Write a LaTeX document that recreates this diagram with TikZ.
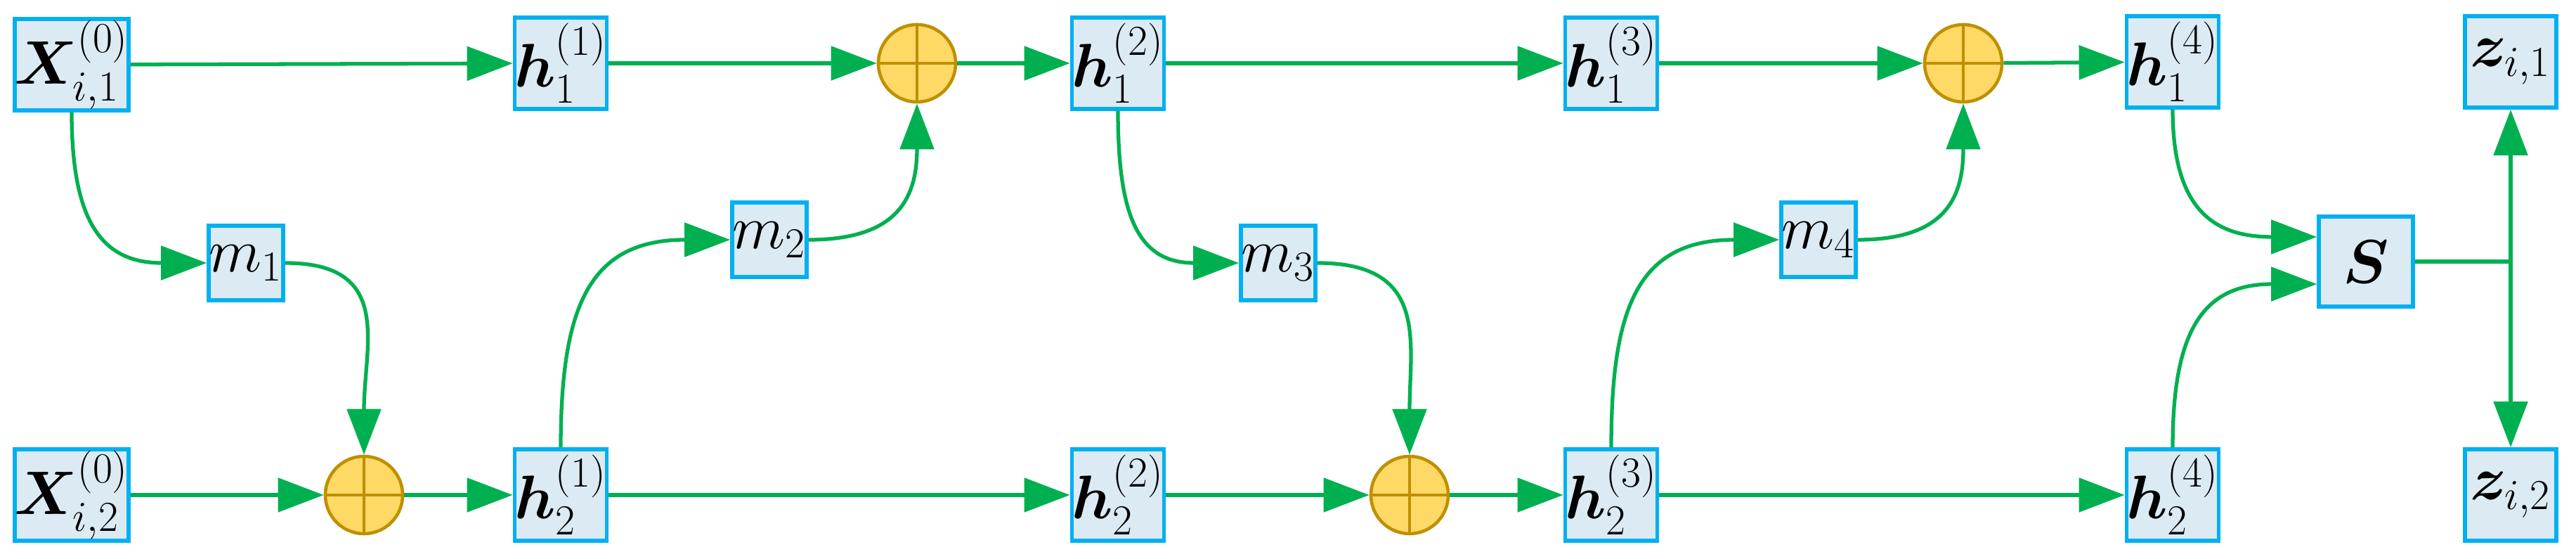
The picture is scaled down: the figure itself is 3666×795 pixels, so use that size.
\documentclass[tikz,border=0pt]{standalone}
\usepackage{amsmath,bm}
\usetikzlibrary{arrows.meta}
\definecolor{bfill}{RGB}{220,234,244}
\definecolor{bdraw}{RGB}{0,176,240}
\definecolor{gline}{RGB}{0,176,80}
\definecolor{cfill}{RGB}{255,217,102}
\definecolor{cdraw}{RGB}{191,144,0}
\begin{document}
\begin{tikzpicture}[x=0.01cm,y=-0.01cm,
 box/.style={draw=bdraw,fill=bfill,line width=1.6pt,minimum width=1.3cm,minimum height=1.3cm,inner sep=0pt,font=\fontsize{27}{30}\selectfont},
 mbox/.style={box,minimum width=1.06cm,minimum height=1.06cm},
 plus/.style={circle,draw=cdraw,fill=cfill,line width=1.3pt,minimum size=1.1cm,inner sep=0pt,path picture={\draw[cdraw,line width=1.3pt] (path picture bounding box.north)--(path picture bounding box.south) (path picture bounding box.west)--(path picture bounding box.east);}},
 arr/.style={draw=gline,line width=1.5pt,-{Triangle[length=0.65cm,width=0.48cm]}},
 crv/.style={arr,looseness=1.35},
 ln/.style={draw=gline,line width=1.5pt}]
\useasboundingbox (0,0) rectangle (3666,795);
\node[box] (x1) at (102,92) {$\bm{X}_{i,1}^{(0)}$};
\node[box] (x2) at (102,704) {$\bm{X}_{i,2}^{(0)}$};
\node[mbox] (m1) at (350,374) {$m_1$};
\node[plus] (p1) at (518,704) {};
\node[box] (h11) at (798,90) {$\bm{h}_1^{(1)}$};
\node[box] (h21) at (798,704) {$\bm{h}_2^{(1)}$};
\node[mbox] (m2) at (1095,341) {$m_2$};
\node[plus] (p2) at (1305,90) {};
\node[box] (h12) at (1591,90) {$\bm{h}_1^{(2)}$};
\node[box] (h22) at (1591,704) {$\bm{h}_2^{(2)}$};
\node[mbox] (m3) at (1819,374) {$m_3$};
\node[plus] (p3) at (2006,704) {};
\node[box] (h13) at (2293,90) {$\bm{h}_1^{(3)}$};
\node[box] (h23) at (2293,704) {$\bm{h}_2^{(3)}$};
\node[mbox] (m4) at (2588,341) {$m_4$};
\node[plus] (p4) at (2794,90) {};
\node[box] (h14) at (3092,88) {$\bm{h}_1^{(4)}$};
\node[box] (h24) at (3092,704) {$\bm{h}_2^{(4)}$};
\node[box,minimum width=1.34cm,minimum height=1.28cm] (S) at (3367,372) {$\bm{S}$};
\node[box] (z1) at (3573,88) {$\bm{z}_{i,1}$};
\node[box] (z2) at (3573,704) {$\bm{z}_{i,2}$};
\coordinate (j) at (3573,372);
% top row
\draw[arr] (x1) -- (h11);
\draw[arr] (h11) -- (p2);
\draw[arr] (p2) -- (h12);
\draw[arr] (h12) -- (h13);
\draw[arr] (h13) -- (p4);
\draw[arr] (p4) -- (h14);
% bottom row
\draw[arr] (x2) -- (p1);
\draw[arr] (p1) -- (h21);
\draw[arr] (h21) -- (h22);
\draw[arr] (h22) -- (p3);
\draw[arr] (p3) -- (h23);
\draw[arr] (h23) -- (h24);
% cross links
\draw[crv] (x1.south) to[out=-90,in=180] (m1.west);
\draw[crv] (m1.east) to[out=0,in=90] (p1.north);
\draw[crv] (h21.north) to[out=90,in=180] (m2.west);
\draw[crv] (m2.east) to[out=0,in=-90] (p2.south);
\draw[crv] (h12.south) to[out=-90,in=180] (m3.west);
\draw[crv] (m3.east) to[out=0,in=90] (p3.north);
\draw[crv] (h23.north) to[out=90,in=180] (m4.west);
\draw[crv] (m4.east) to[out=0,in=-90] (p4.south);
\draw[crv] (h14.south) to[out=-90,in=180] ([yshift=0.35cm]S.west);
\draw[crv] (h24.north) to[out=90,in=180] ([yshift=-0.32cm]S.west);
\draw[ln] (S.east) -- (j);
\draw[arr] (j) -- (z1.south);
\draw[arr] (j) -- (z2.north);
\end{tikzpicture}
\end{document}
